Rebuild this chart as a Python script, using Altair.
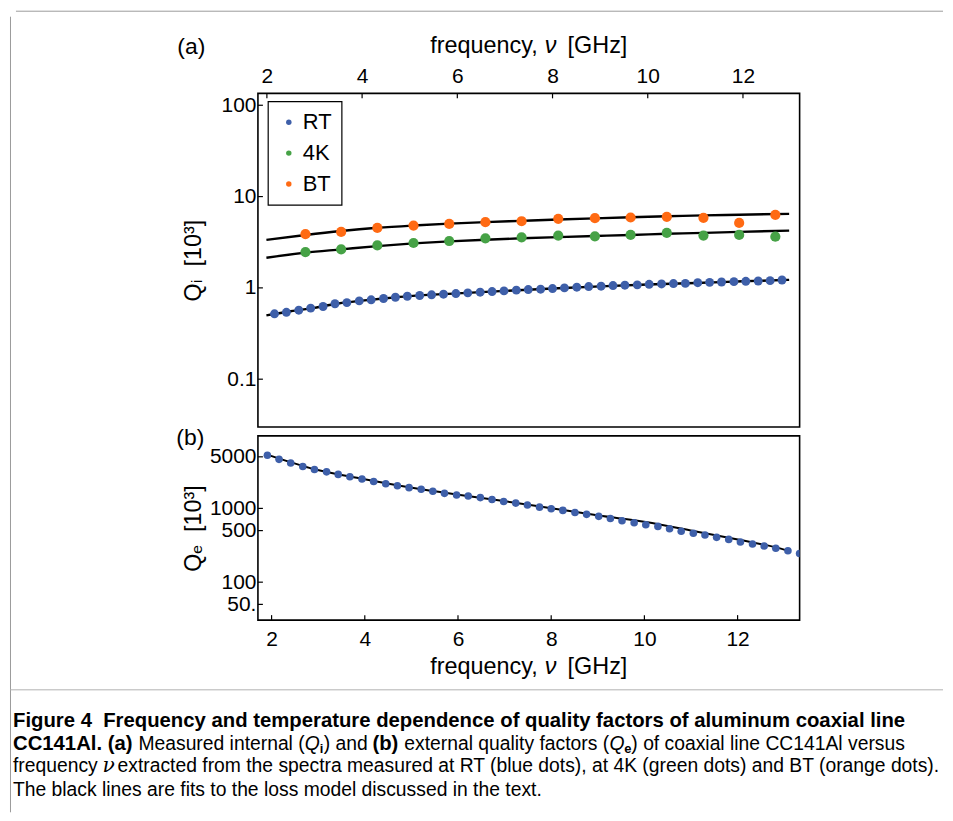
import altair as alt
import pandas as pd

# ---------------- data ----------------
modes_ghz = [1.91, 2.16, 2.41, 2.67, 2.92, 3.18, 3.43, 3.68, 3.94, 4.19,
             4.45, 4.70, 4.95, 5.21, 5.46, 5.71, 5.97, 6.22, 6.48, 6.73,
             6.98, 7.24, 7.49, 7.75, 8.00, 8.25, 8.51, 8.76, 9.02, 9.27,
             9.52, 9.78, 10.03, 10.29, 10.54, 10.79, 11.05, 11.30, 11.55, 11.81,
             12.06, 12.32, 12.57, 12.82, 13.08, 13.33]

# internal Q at RT (modes 2..44), units 10^3
qi_rt = [0.52, 0.54, 0.57, 0.60, 0.625, 0.67, 0.69, 0.72, 0.74, 0.765,
         0.79, 0.81, 0.825, 0.84, 0.853, 0.867, 0.882, 0.897, 0.912, 0.927,
         0.944, 0.959, 0.967, 0.983, 1.00, 1.017, 1.034, 1.043, 1.06, 1.07,
         1.08, 1.095, 1.105, 1.115, 1.12, 1.14, 1.15, 1.16, 1.17, 1.18,
         1.19, 1.20, 1.22]

# cold measurements
f_cold = [2.81, 3.56, 4.32, 5.08, 5.83, 6.59, 7.35, 8.12, 8.89, 9.64, 10.40, 11.17, 11.92, 12.68]
qi_4k = [2.47, 2.64, 2.92, 3.10, 3.26, 3.49, 3.58, 3.74, 3.67, 3.80, 4.00, 3.74, 3.80, 3.64]
qi_bt = [3.87, 4.10, 4.54, 4.81, 5.02, 5.24, 5.37, 5.70, 5.80, 5.90, 6.00, 5.85, 5.15, 6.31]

# external Q at RT (all 46 modes), units 10^3
qe_rt = [5240, 4620, 4130, 3690, 3360, 3130, 2890, 2690, 2500, 2320,
         2160, 2030, 1910, 1820, 1710, 1600, 1520, 1470, 1400, 1320,
         1240, 1180, 1110, 1040, 990, 940, 880, 830, 780, 730,
         680, 640, 600, 570, 530, 490, 460, 435, 405, 380,
         350, 330, 310, 288, 266, 245]

# fit curves
fit_f_rt = [1.99, 2.5, 3.0, 3.5, 4.0, 4.5, 5.0, 6.0, 7.0, 8.0, 9.0, 10.0, 11.0, 12.0, 12.97]
fit_q_rt = [0.50, 0.555, 0.605, 0.675, 0.725, 0.77, 0.812, 0.87, 0.928, 0.985, 1.04, 1.09, 1.13, 1.18, 1.225]
fit_f_cold = [1.99, 2.81, 3.56, 4.32, 5.08, 5.83, 6.59, 7.35, 8.12, 8.89, 9.64, 10.40, 11.17, 11.92, 12.97]
fit_q_4k = [2.14, 2.43, 2.64, 2.87, 3.07, 3.23, 3.37, 3.49, 3.60, 3.70, 3.80, 3.91, 4.00, 4.10, 4.24]
fit_q_bt = [3.35, 3.80, 4.20, 4.55, 4.82, 5.05, 5.25, 5.42, 5.60, 5.77, 5.93, 6.08, 6.22, 6.33, 6.47]
fit_f_qe = [1.89, 2.92, 3.94, 4.95, 5.97, 6.98, 8.00, 9.02, 10.03, 11.05, 12.06, 12.82, 13.08]
fit_q_qe = [5400, 3400, 2520, 1930, 1540, 1260, 1005, 800, 655, 495, 372, 296, 268]

freq_ticks = [2, 4, 6, 8, 10, 12]
qi_ticks = [0.1, 1, 10, 100]
qe_ticks = [50, 100, 500, 1000, 5000]
series_names = ["RT", "4K", "BT"]
series_colors = ["#3E5FA9", "#46A246", "#FF6A13"]

# ---------------- tables ----------------
rt_df = pd.DataFrame({"f": modes_ghz[1:44], "q": qi_rt, "series": "RT"})
cold_df = pd.concat([
    pd.DataFrame({"f": f_cold, "q": qi_4k, "series": "4K"}),
    pd.DataFrame({"f": f_cold, "q": qi_bt, "series": "BT"}),
])
fit_top_df = pd.concat([
    pd.DataFrame({"f": fit_f_rt, "q": fit_q_rt, "series": "RT"}),
    pd.DataFrame({"f": fit_f_cold, "q": fit_q_4k, "series": "4K"}),
    pd.DataFrame({"f": fit_f_cold, "q": fit_q_bt, "series": "BT"}),
])
qe_df = pd.DataFrame({"f": modes_ghz, "q": qe_rt})
fit_qe_df = pd.DataFrame({"f": fit_f_qe, "q": fit_q_qe})
one = pd.DataFrame({"k": [0]})

FONT = "Liberation Sans"
W = 544
H_TOP = 335
H_BOT = 185

# ---------------- scales / axes ----------------
xs_top = alt.Scale(domain=[1.812, 13.19], nice=False, zero=False)
xs_bot = alt.Scale(domain=[1.707, 13.331], nice=False, zero=False)
ys_top = alt.Scale(type="log", domain=[0.03, 135], nice=False)
ys_bot = alt.Scale(type="log", domain=[30.6, 9610], nice=False)

ax_top = alt.Axis(orient="top", values=freq_ticks, format="d", title=None, ticks=False,
                  domain=False, grid=False, labelFontSize=21, labelPadding=7, labelFont=FONT,
                  labelColor="black")
ax_bot = alt.Axis(orient="bottom", values=freq_ticks, format="d", title=None, ticks=False,
                  domain=False, grid=False, labelFontSize=21, labelPadding=9, labelFont=FONT,
                  labelColor="black")
ay_top = alt.Axis(values=qi_ticks, format="~g", title="Q\u1d62\u00a0\u00a0[10\u00b3]",
                  titleAngle=270, titleX=-58, titleY=H_TOP / 2, titleAlign="center",
                  titleBaseline="alphabetic", titleFontSize=23.5, titleFontWeight="normal",
                  titleFont=FONT, titleColor="black", ticks=False, domain=False, grid=False,
                  labelPadding=2, labelFontSize=21, labelFont=FONT, labelColor="black")
ay_bot = alt.Axis(values=qe_ticks, title="Q\u2091\u00a0\u00a0[10\u00b3]",
                  labelExpr="datum.value == 50 ? '50.' : format(datum.value, 'd')",
                  titleAngle=270, titleX=-58, titleY=H_BOT / 2, titleAlign="center",
                  titleBaseline="alphabetic", titleFontSize=23.5, titleFontWeight="normal",
                  titleFont=FONT, titleColor="black", ticks=False, domain=False, grid=False,
                  labelPadding=2, labelFontSize=21, labelFont=FONT, labelColor="black")


def XT():
    return alt.X("f:Q", scale=xs_top, axis=ax_top)


def YT():
    return alt.Y("q:Q", scale=ys_top, axis=ay_top)


def XB():
    return alt.X("f:Q", scale=xs_bot, axis=ax_bot)


def YB():
    return alt.Y("q:Q", scale=ys_bot, axis=ay_bot)


legend = alt.Legend(orient="none", legendX=10, legendY=8, title=None,
                    fillColor="white", padding=10, labelFontSize=22,
                    labelFont=FONT, labelColor="black", symbolType="circle", symbolSize=30,
                    symbolStrokeWidth=0, symbolOpacity=1, labelOffset=3, rowPadding=9,
                    cornerRadius=0)
color_enc = alt.Color("series:N", scale=alt.Scale(domain=series_names, range=series_colors),
                      legend=legend, sort=series_names)


def txt(text, x, y, size=23, align="left", weight="normal", style="normal", font=FONT,
        dy=0):
    return alt.Chart(one).mark_text(text=text, align=align, baseline="middle", fontSize=size,
                                    fontWeight=weight, fontStyle=style, font=font,
                                    color="black", dy=dy).encode(x=alt.value(x), y=alt.value(y))


def hrule(x1, x2, y, color="#9a9a9a", w=1):
    return alt.Chart(one).mark_rule(color=color, strokeWidth=w).encode(
        x=alt.value(x1), x2=alt.value(x2), y=alt.value(y))


def vrule(x, y1, y2, color="#9a9a9a", w=1):
    return alt.Chart(one).mark_rule(color=color, strokeWidth=w).encode(
        x=alt.value(x), y=alt.value(y1), y2=alt.value(y2))


# page origin of panels: top (257, 91), bottom (257, 435)
OX, OYT, OYB = 257, 91, 435
TS = 23.5

# ---------------- top panel ----------------
fit_top = alt.Chart(fit_top_df).mark_line(color="black", strokeWidth=2.4,
                                          interpolate="monotone", clip=True).encode(
    x=XT(), y=YT(), detail="series:N")
cold_pts = alt.Chart(cold_df).mark_circle(size=105, opacity=1, clip=True).encode(
    x=XT(), y=YT(), color=color_enc)
rt_pts = alt.Chart(rt_df).mark_circle(size=80, opacity=1, clip=True).encode(
    x=XT(), y=YT(), color=color_enc)
xticks_top = alt.Chart(pd.DataFrame({"f": freq_ticks})).mark_rule(
    color="black", strokeWidth=1.2).encode(x=XT(), y=alt.value(0), y2=alt.value(5))
yticks_top = alt.Chart(pd.DataFrame({"q": qi_ticks})).mark_rule(
    color="black", strokeWidth=1.2).encode(y=YT(), x=alt.value(0), x2=alt.value(5))

top_layers = [
    # figure box decoration
    hrule(14 - OX, 945 - OX, 8.5 - OYT),
    vrule(8.5 - OX, 14 - OYT, 813 - OYT),
    hrule(8 - OX, 945 - OX, 690 - OYT, color="#b0b0b0"),
    fit_top, cold_pts, rt_pts, xticks_top, yticks_top,
    txt("(a)", 176 - OX, 44 - OYT),
    txt("frequency,", 430 - OX, 43 - OYT, size=TS),
    txt("\u03bd", 545 - OX, 43 - OYT, size=TS, style="italic"),
    txt("[GHz]", 628 - OX, 43 - OYT, size=TS, align="right"),
]
top = alt.layer(*top_layers).properties(width=W, height=H_TOP)

# ---------------- bottom panel ----------------
fit_bot = alt.Chart(fit_qe_df).mark_line(color="black", strokeWidth=2, interpolate="monotone",
                                         clip=True).encode(x=XB(), y=YB())
qe_pts = alt.Chart(qe_df).mark_circle(size=58, opacity=1, color=series_colors[0],
                                      clip=True).encode(x=XB(), y=YB())
xticks_bot = alt.Chart(pd.DataFrame({"f": freq_ticks})).mark_rule(
    color="black", strokeWidth=1.2).encode(x=XB(), y=alt.value(H_BOT - 5), y2=alt.value(H_BOT))
yticks_bot = alt.Chart(pd.DataFrame({"q": qe_ticks})).mark_rule(
    color="black", strokeWidth=1.2).encode(y=YB(), x=alt.value(0), x2=alt.value(5))

CF = "Liberation Sans"
CB = 20.4   # bold caption size
CN = 19.4   # regular caption size
l1, l2, l3, l4 = 721 - OYB, 744 - OYB, 767 - OYB, 791 - OYB
caption = [
    txt("Figure 4\u00a0\u00a0Frequency and temperature dependence of quality factors of aluminum coaxial line",
        11 - OX, l1, size=CB, weight="bold", font=CF),
    txt("CC141Al. (a)", 11 - OX, l2, size=CB, weight="bold", font=CF),
    txt("Measured internal (", 137 - OX, l2, size=CN, font=CF),
    txt("Q", 304 - OX, l2, size=CN, style="italic", font=CF),
    txt("i", 319 - OX, l2, size=13, weight="bold", font=CF, dy=5),
    txt(") and", 323 - OX, l2, size=CN, font=CF),
    txt("(b)", 372 - OX, l2, size=CB, weight="bold", font=CF),
    txt("external quality factors (", 404 - OX, l2, size=CN, font=CF),
    txt("Q", 610 - OX, l2, size=CN, style="italic", font=CF),
    txt("e", 625 - OX, l2, size=13, weight="bold", font=CF, dy=5),
    txt(") of coaxial line CC141Al versus", 632 - OX, l2, size=CN, font=CF),
    txt("frequency", 11 - OX, l3, size=CN, font=CF),
    txt("\u03bd", 101 - OX, l3, size=CN + 1, style="italic", font="DejaVu Serif"),
    txt("extracted from the spectra measured at RT (blue dots), at 4K (green dots) and BT (orange dots).",
        116 - OX, l3, size=CN, font=CF),
    txt("The black lines are fits to the loss model discussed in the text.", 11 - OX, l4,
        size=CN, font=CF),
]

bot_layers = [
    fit_bot, qe_pts, xticks_bot, yticks_bot,
    txt("(b)", 175 - OX, 437 - OYB),
    txt("frequency,", 430 - OX, 667 - OYB, size=TS),
    txt("\u03bd", 545 - OX, 667 - OYB, size=TS, style="italic"),
    txt("[GHz]", 628 - OX, 667 - OYB, size=TS, align="right"),
] + caption
bottom = alt.layer(*bot_layers).properties(width=W, height=H_BOT)

chart = alt.vconcat(top, bottom, spacing=9, bounds="flush").properties(
    padding=0, background="white"
).configure_view(stroke="black", strokeWidth=1.6).configure_legend(
    strokeColor="black", strokeWidth=1.2
)

chart.save("out.html", embed_options={"renderer": "svg", "actions": False})
